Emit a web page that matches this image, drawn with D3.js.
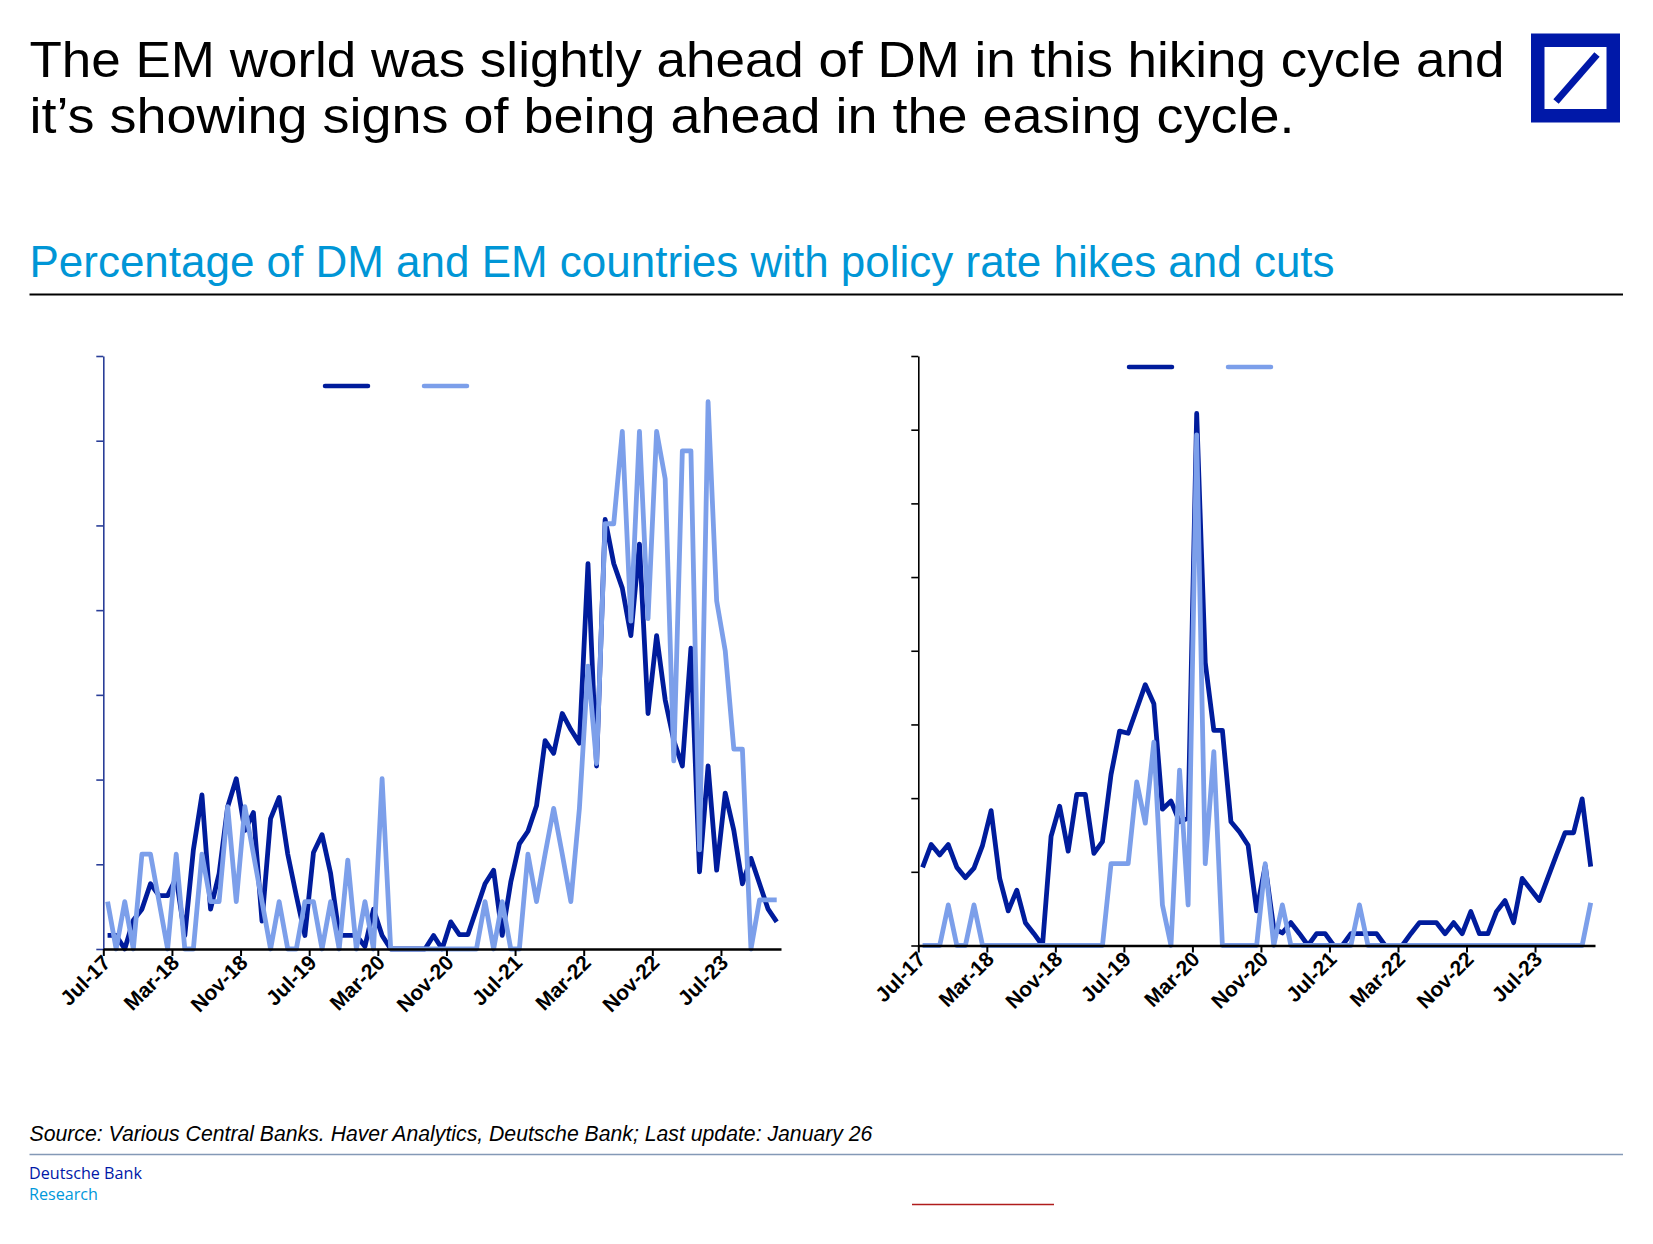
<!DOCTYPE html>
<html><head><meta charset="utf-8">
<script src="https://cdn.jsdelivr.net/npm/d3@7"></script>
<style>body{margin:0;background:#fff;} svg{display:block;}</style>
</head><body>
<svg id="c" width="1653" height="1244"></svg>
<script>
// ---------- data ----------
const titleLines = ["The EM world was slightly ahead of DM in this hiking cycle and",
                    "it\u2019s showing signs of being ahead in the easing cycle."];
const subtitle = "Percentage of DM and EM countries with policy rate hikes and cuts";
const sourceText = "Source: Various Central Banks. Haver Analytics, Deutsche Bank; Last update: January 26";
const footerLines = ["Deutsche Bank", "Research"];

// monthly categories Jul-17 .. Jan-24
const months = d3.timeMonth.range(new Date(2017, 6, 1), new Date(2024, 1, 1)).map(d3.timeFormat("%b-%y"));
const tickLabels = ["Jul-17","Mar-18","Nov-18","Jul-19","Mar-20","Nov-20","Jul-21","Mar-22","Nov-22","Jul-23"];
const seriesNames = ["EM", "DM"];

// left panel: hikes
const hikesDark = [1.6,1.6,0,3.4,4.7,7.7,6.3,6.3,8.4,1.6,11.7,18.2,4.7,8.9,16.8,20.1,14.0,16.1,3.3,15.4,
  17.9,11.2,6.3,1.6,11.4,13.5,8.9,1.6,1.6,1.6,0.3,4.7,1.6,0,0,0,0,0,1.6,0,
  3.2,1.7,1.7,4.7,7.7,9.3,1.6,7.9,12.4,13.9,16.9,24.6,23.1,27.8,25.9,24.3,45.5,21.6,50.7,45.5,
  42.6,37.0,47.8,27.8,37.0,29.4,24.6,21.6,35.5,9.1,21.6,9.3,18.4,14.0,7.7,10.7,7.7,4.7,3.2];
const hikesLight = [5.6,0,5.6,0,11.2,11.2,5.6,0,11.2,0,0,11.2,5.6,5.6,16.8,5.6,16.8,11.2,5.6,0,
  5.6,0,0,5.6,5.6,0,5.6,0,10.5,0,5.6,0,20.1,0,0,0,0,0,0,0,
  0,0,0,0,5.6,0,5.6,0,0,11.2,5.6,11.2,16.6,11.2,5.6,16.6,33.4,21.9,50.2,50.2,
  61.1,38.7,61.1,39.0,61.1,55.5,22.2,58.8,58.8,11.7,64.6,41.1,35.2,23.6,23.6,0,5.8,5.8,5.8];

// right panel: cuts
const cutsDark = [10.6,13.7,12.3,13.7,10.6,9.2,10.5,13.6,18.3,9.1,4.7,7.5,3.1,1.6,0,14.8,18.9,12.8,20.5,20.5,
  12.5,14.1,23.2,29.1,28.8,32.1,35.4,32.8,18.5,19.6,16.8,17.3,72.2,38.4,29.2,29.2,16.8,15.4,13.6,4.7,
  10.8,2.3,1.7,3.1,1.6,0,1.6,1.6,0,0,1.6,1.6,1.6,1.6,0,0,0,1.6,3.1,3.1,
  3.1,1.6,3.1,1.6,4.6,1.6,1.6,4.6,6.1,3.1,9.1,7.6,6.1,9.2,12.3,15.3,15.3,19.9,10.7];
const cutsLight = [0,0,0,5.5,0,0,5.5,0,0,0,0,0,0,0,0,0,0,0,0,0,
  0,0,11.1,11.1,11.1,22.2,16.6,27.6,5.5,0,23.8,5.5,69.3,11.1,26.3,0,0,0,0,0,
  11.1,0,5.5,0,0,0,0,0,0,0,0,5.5,0,0,0,0,0,0,0,0,
  0,0,0,0,0,0,0,0,0,0,0,0,0,0,0,0,0,0,5.8];

const yTicksLeft = [0,10,20,30,40,50,60,70];
const yTicksRight = [0,10,20,30,40,50,60,70,80];

// ---------- drawing ----------
const DARK = "#001C9C", LIGHT = "#7C9FEA", DBBLUE = "#0018A8";
const svg = d3.select("#c");
const FONT = "'Liberation Sans', Arial, Helvetica, sans-serif";

function fit(sel, target) {
  const fs = parseFloat(sel.attr("font-size"));
  const w = sel.node().getComputedTextLength();
  sel.attr("font-size", (fs * target / w).toFixed(2));
  return sel;
}

// title (glyphs stretched slightly to reach the reference line width)
const tBase = [76.5, 132.5], tWidth = [1475, 1265];
titleLines.forEach((t, i) => {
  svg.append("text").attr("x", 29.5).attr("y", tBase[i])
    .attr("font-family", FONT).attr("font-size", 49.5).attr("fill", "#000")
    .attr("textLength", tWidth[i]).attr("lengthAdjust", "spacingAndGlyphs").text(t);
});

// logo
const logo = svg.append("g");
logo.append("rect").attr("x", 1531).attr("y", 33.5).attr("width", 89).attr("height", 89).attr("fill", DBBLUE);
logo.append("rect").attr("x", 1544.5).attr("y", 47).attr("width", 62).attr("height", 62).attr("fill", "#fff");
logo.append("line").attr("x1", 1597).attr("y1", 54.5).attr("x2", 1556).attr("y2", 101.5)
  .attr("stroke", DBBLUE).attr("stroke-width", 7);

// subtitle
fit(svg.append("text").attr("x", 29.5).attr("y", 277).attr("font-family", FONT)
  .attr("font-size", 40).attr("fill", "#0096D6").text(subtitle), 1305);
svg.append("line").attr("x1", 29.5).attr("x2", 1623).attr("y1", 294.5).attr("y2", 294.5)
  .attr("stroke", "#000").attr("stroke-width", 2);

// panels
const panels = [
  { x0: 103.3, x1: 781, yTop: 356, yBot: 949, yMax: 70, ticks: yTicksLeft, yAxisColor: "#2A3E98",
    series: [hikesDark, hikesLight], legendY: 386, legendX: [325, 424] },
  { x0: 918.3, x1: 1595, yTop: 356, yBot: 945.5, yMax: 80, ticks: yTicksRight, yAxisColor: "#000",
    series: [cutsDark, cutsLight], legendY: 367, legendX: [1129, 1228] }
];
const colors = [DARK, LIGHT];

panels.forEach(p => {
  const g = svg.append("g");
  const x = d3.scaleLinear().domain([0, months.length]).range([p.x0, p.x1]);
  const y = d3.scaleLinear().domain([0, p.yMax]).range([p.yBot, p.yTop]);

  // y axis
  const ya = g.append("g").attr("transform", `translate(${p.x0},0)`)
    .call(d3.axisLeft(y).tickValues(p.ticks).tickFormat("").tickSize(7).tickSizeOuter(0));
  ya.select(".domain").attr("stroke", p.yAxisColor).attr("stroke-width", 1.6);
  ya.selectAll(".tick line").attr("stroke", p.yAxisColor).attr("stroke-width", 1.6);

  // lines
  p.series.forEach((vals, k) => {
    const line = d3.line().x((d, i) => x(i + 0.5)).y(d => y(d));
    g.append("path").datum(vals).attr("d", line).attr("fill", "none")
      .attr("stroke", colors[k]).attr("stroke-width", 4.8)
      .attr("stroke-linejoin", "round").attr("stroke-linecap", "butt");
  });

  // x axis
  const tickIdx = tickLabels.map(l => months.indexOf(l));
  const xa = g.append("g").attr("transform", `translate(0,${p.yBot})`)
    .call(d3.axisBottom(x).tickValues(tickIdx).tickFormat(i => months[i]).tickSize(7).tickSizeOuter(0));
  xa.select(".domain").attr("stroke", "#000").attr("stroke-width", 2.4);
  xa.selectAll(".tick line").attr("stroke", "#000").attr("stroke-width", 2);
  xa.selectAll(".tick text")
    .attr("font-family", FONT).attr("font-size", 21).attr("font-weight", "bold").attr("fill", "#000")
    .attr("text-anchor", "end").attr("dy", null).attr("y", null)
    .attr("transform", "translate(8,15) rotate(-45)");

  // legend (line keys)
  p.legendX.forEach((lx, k) => {
    g.append("line").attr("x1", lx).attr("x2", lx + 43).attr("y1", p.legendY).attr("y2", p.legendY)
      .attr("stroke", colors[k]).attr("stroke-width", 4.5).attr("stroke-linecap", "round")
      .append("title").text(seriesNames[k]);
  });
});

// source + footer
fit(svg.append("text").attr("x", 29.5).attr("y", 1141).attr("font-family", FONT)
  .attr("font-style", "italic").attr("font-size", 19).attr("fill", "#000").text(sourceText), 843);
svg.append("line").attr("x1", 29.5).attr("x2", 1623).attr("y1", 1154.5).attr("y2", 1154.5)
  .attr("stroke", "#8499B6").attr("stroke-width", 1.3);
const fCols = [DBBLUE, "#0098DB"], fBase = [1178.5, 1200], fW = [113, 69];
footerLines.forEach((t, i) => {
  fit(svg.append("text").attr("x", 29).attr("y", fBase[i]).attr("font-family", "'Open Sans', 'Noto Sans', sans-serif")
    .attr("font-size", 15).attr("fill", fCols[i]).text(t), fW[i]);
});
svg.append("line").attr("x1", 912).attr("x2", 1054).attr("y1", 1204.5).attr("y2", 1204.5)
  .attr("stroke", "#B01C1C").attr("stroke-width", 1.3);
</script>
</body></html>
